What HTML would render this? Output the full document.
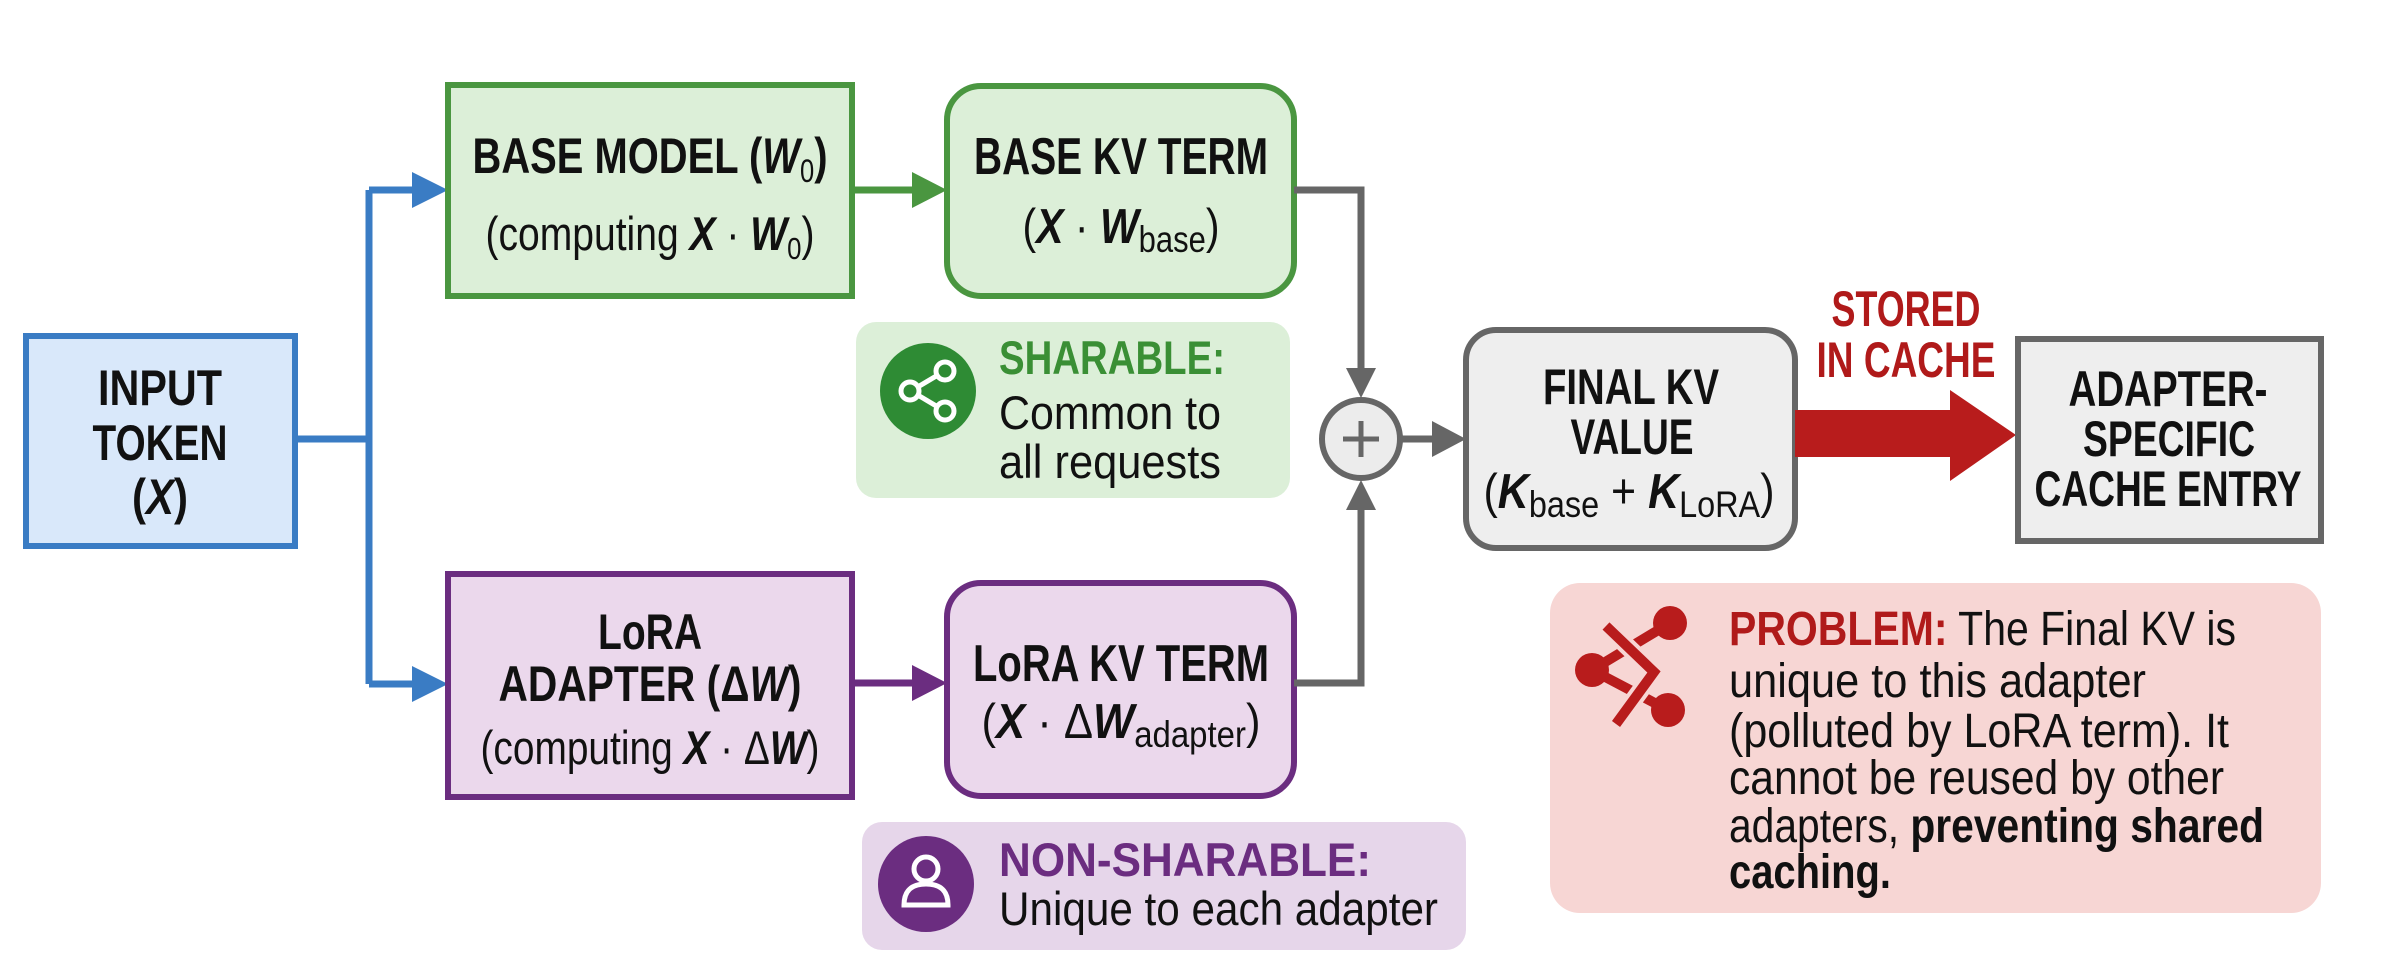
<!DOCTYPE html>
<html><head><meta charset="utf-8"><style>
html,body{margin:0;padding:0;background:#fff;}
svg{display:block;}
text{font-family:"Liberation Sans Narrow","Liberation Sans",sans-serif;fill:#111;}
.b{font-weight:bold;}
</style></head><body>
<svg width="2394" height="974" viewBox="0 0 2394 974" xmlns="http://www.w3.org/2000/svg">
<rect width="2394" height="974" fill="#fff"/>

<g stroke="#3a7cc4" stroke-width="7" fill="none">
<path d="M297 439 H369 M369 190 V684 M369 190 H420 M369 684 H420"/>
</g>
<polygon points="412,172 448,190 412,208" fill="#3a7cc4"/>
<polygon points="412,666 448,684 412,702" fill="#3a7cc4"/>

<rect x="26" y="336" width="269" height="210" fill="#d9e8fa" stroke="#3a7cc4" stroke-width="6"/>
<text class="b" x="160" y="405" font-size="50" text-anchor="middle" textLength="124" lengthAdjust="spacingAndGlyphs">INPUT</text>
<text class="b" x="160" y="460" font-size="50" text-anchor="middle" textLength="135" lengthAdjust="spacingAndGlyphs">TOKEN</text>
<text class="b" x="160" y="514" font-size="50" text-anchor="middle" textLength="56" lengthAdjust="spacingAndGlyphs">(<tspan font-style="italic">X</tspan>)</text>

<rect x="448" y="85" width="404" height="211" fill="#dcefd8" stroke="#4a9640" stroke-width="6"/>
<text class="b" x="650" y="173" font-size="50" text-anchor="middle" textLength="355" lengthAdjust="spacingAndGlyphs">BASE MODEL (<tspan font-style="italic">W</tspan><tspan font-size="32" dy="9" font-weight="normal">0</tspan><tspan dy="-9">)</tspan></text>
<text x="650" y="250" font-size="47" text-anchor="middle" textLength="329" lengthAdjust="spacingAndGlyphs">(computing <tspan class="b" font-style="italic">X</tspan> · <tspan class="b" font-style="italic">W</tspan><tspan font-size="31" dy="9">0</tspan><tspan dy="-9">)</tspan></text>

<line x1="852" y1="190" x2="915" y2="190" stroke="#4a9640" stroke-width="7"/>
<polygon points="912,172 947,190 912,208" fill="#4a9640"/>

<rect x="947" y="86" width="347" height="210" rx="34" fill="#dcefd8" stroke="#4a9640" stroke-width="6"/>
<text class="b" x="1121" y="174" font-size="52" text-anchor="middle" textLength="294" lengthAdjust="spacingAndGlyphs">BASE KV TERM</text>
<text x="1121" y="243" font-size="49" text-anchor="middle" textLength="197" lengthAdjust="spacingAndGlyphs">(<tspan class="b" font-style="italic">X</tspan> · <tspan class="b" font-style="italic">W</tspan><tspan font-size="37" dy="9">base</tspan><tspan dy="-9">)</tspan></text>

<rect x="856" y="322" width="434" height="176" rx="20" fill="#dcefd8"/>
<circle cx="928" cy="391" r="48" fill="#2e8b34"/>
<g stroke="#fff" stroke-width="5" fill="none">
<line x1="911" y1="391" x2="943" y2="372"/><line x1="911" y1="391" x2="943" y2="410"/>
<circle cx="910" cy="391" r="9" fill="#2e8b34"/><circle cx="945" cy="371" r="9" fill="#2e8b34"/><circle cx="945" cy="411" r="9" fill="#2e8b34"/>
</g>
<text class="b" x="999" y="374" font-size="47" style="fill:#3a8f35" textLength="226" lengthAdjust="spacingAndGlyphs">SHARABLE:</text>
<text x="999" y="429" font-size="47" textLength="222" lengthAdjust="spacingAndGlyphs">Common to</text>
<text x="999" y="478" font-size="47" textLength="222" lengthAdjust="spacingAndGlyphs">all requests</text>

<rect x="448" y="574" width="404" height="223" fill="#ebd8ec" stroke="#6b2d80" stroke-width="6"/>
<text class="b" x="650" y="649" font-size="50" text-anchor="middle" textLength="104" lengthAdjust="spacingAndGlyphs">LoRA</text>
<text class="b" x="650" y="701" font-size="50" text-anchor="middle" textLength="303" lengthAdjust="spacingAndGlyphs">ADAPTER (Δ<tspan font-style="italic">W</tspan>)</text>
<text x="650" y="764" font-size="47" text-anchor="middle" textLength="339" lengthAdjust="spacingAndGlyphs">(computing <tspan class="b" font-style="italic">X</tspan> · Δ<tspan class="b" font-style="italic">W</tspan>)</text>

<line x1="852" y1="683" x2="915" y2="683" stroke="#6b2d80" stroke-width="7"/>
<polygon points="912,665 947,683 912,701" fill="#6b2d80"/>

<rect x="947" y="583" width="347" height="213" rx="34" fill="#ebd8ec" stroke="#6b2d80" stroke-width="6"/>
<text class="b" x="1121" y="681" font-size="52" text-anchor="middle" textLength="296" lengthAdjust="spacingAndGlyphs">LoRA KV TERM</text>
<text x="1121" y="738" font-size="49" text-anchor="middle" textLength="279" lengthAdjust="spacingAndGlyphs">(<tspan class="b" font-style="italic">X</tspan> · Δ<tspan class="b" font-style="italic">W</tspan><tspan font-size="37" dy="9">adapter</tspan><tspan dy="-9">)</tspan></text>

<rect x="862" y="822" width="604" height="128" rx="20" fill="#e6d6ea"/>
<circle cx="926" cy="884" r="48" fill="#6b2d80"/>
<g stroke="#fff" stroke-width="5" fill="none">
<circle cx="926" cy="869" r="12"/>
<path d="M904 905 Q904 884 926 884 Q948 884 948 905 Z"/>
</g>
<text class="b" x="999" y="876" font-size="47" style="fill:#6b2d80" textLength="372" lengthAdjust="spacingAndGlyphs">NON-SHARABLE:</text>
<text x="999" y="925" font-size="47" textLength="439" lengthAdjust="spacingAndGlyphs">Unique to each adapter</text>

<g stroke="#666" stroke-width="7" fill="none">
<path d="M1294 190 H1361 V380"/>
<path d="M1294 683 H1361 V500"/>
<line x1="1401" y1="439" x2="1440" y2="439"/>
</g>
<polygon points="1346,368 1376,368 1361,398" fill="#666"/>
<polygon points="1346,510 1376,510 1361,480" fill="#666"/>
<polygon points="1432,421 1466,439 1432,457" fill="#666"/>
<circle cx="1361" cy="439" r="39" fill="#ececec" stroke="#666" stroke-width="6"/>
<g stroke="#666" stroke-width="5"><line x1="1343" y1="439" x2="1379" y2="439"/><line x1="1361" y1="421" x2="1361" y2="457"/></g>

<rect x="1466" y="330" width="329" height="218" rx="30" fill="#eeeeee" stroke="#666" stroke-width="6"/>
<text class="b" x="1631" y="404" font-size="50" text-anchor="middle" textLength="176" lengthAdjust="spacingAndGlyphs">FINAL KV</text>
<text class="b" x="1632" y="454" font-size="50" text-anchor="middle" textLength="123" lengthAdjust="spacingAndGlyphs">VALUE</text>
<text x="1629" y="508" font-size="49" text-anchor="middle" textLength="291" lengthAdjust="spacingAndGlyphs">(<tspan class="b" font-style="italic">K</tspan><tspan font-size="37" dy="9">base</tspan><tspan dy="-9"> + </tspan><tspan class="b" font-style="italic">K</tspan><tspan font-size="37" dy="9">LoRA</tspan><tspan dy="-9">)</tspan></text>

<rect x="1795" y="410" width="160" height="47" fill="#b81c1c"/>
<polygon points="1950,390 2016,435 1950,481" fill="#b81c1c"/>
<text class="b" x="1906" y="326" font-size="50" text-anchor="middle" style="fill:#b01a1a" textLength="149" lengthAdjust="spacingAndGlyphs">STORED</text>
<text class="b" x="1906" y="377" font-size="50" text-anchor="middle" style="fill:#b01a1a" textLength="179" lengthAdjust="spacingAndGlyphs">IN CACHE</text>

<rect x="2018" y="339" width="303" height="202" fill="#eeeeee" stroke="#666" stroke-width="6"/>
<text class="b" x="2168" y="406" font-size="50" text-anchor="middle" textLength="199" lengthAdjust="spacingAndGlyphs">ADAPTER-</text>
<text class="b" x="2169" y="456" font-size="50" text-anchor="middle" textLength="172" lengthAdjust="spacingAndGlyphs">SPECIFIC</text>
<text class="b" x="2168" y="506" font-size="50" text-anchor="middle" textLength="267" lengthAdjust="spacingAndGlyphs">CACHE ENTRY</text>

<rect x="1550" y="583" width="771" height="330" rx="30" fill="#f7d6d4"/>
<g fill="#b81c1c" stroke="#b81c1c">
<line x1="1592" y1="670" x2="1670" y2="623" stroke-width="10"/>
<line x1="1592" y1="670" x2="1668" y2="710" stroke-width="10"/>
<circle cx="1670" cy="623" r="17" stroke="none"/>
<circle cx="1592" cy="670" r="17" stroke="none"/>
<circle cx="1668" cy="710" r="17" stroke="none"/>
<polyline points="1606,626 1654,672 1616,724" fill="none" stroke="#f7d6d4" stroke-width="18"/>
<polyline points="1606,626 1654,672 1616,724" fill="none" stroke-width="10"/>
</g>
<g font-size="48">
<text x="1729" y="645" textLength="507" lengthAdjust="spacingAndGlyphs"><tspan class="b" style="fill:#b01a1a">PROBLEM:</tspan> The Final KV is</text>
<text x="1729" y="697" textLength="417" lengthAdjust="spacingAndGlyphs">unique to this adapter</text>
<text x="1729" y="747" textLength="500" lengthAdjust="spacingAndGlyphs">(polluted by LoRA term). It</text>
<text x="1729" y="794" textLength="495" lengthAdjust="spacingAndGlyphs">cannot be reused by other</text>
<text x="1729" y="842" textLength="535" lengthAdjust="spacingAndGlyphs">adapters, <tspan class="b">preventing shared</tspan></text>
<text class="b" x="1729" y="888" textLength="162" lengthAdjust="spacingAndGlyphs">caching.</text>
</g>
</svg>
</body></html>
